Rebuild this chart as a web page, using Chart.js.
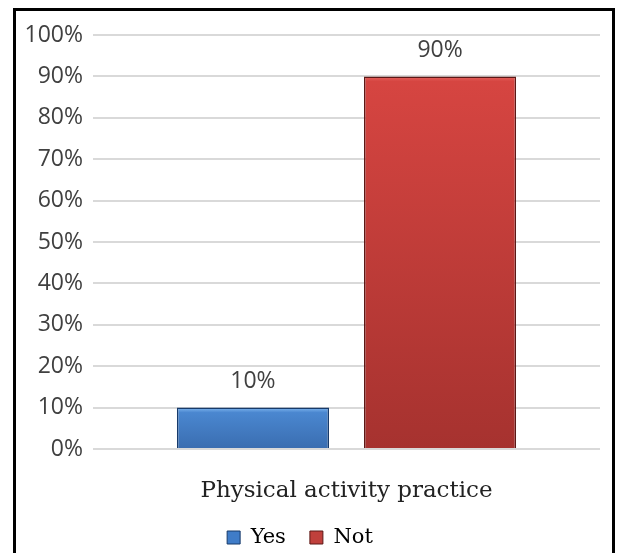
<!DOCTYPE html>
<html>
<head>
<meta charset="utf-8">
<script src="https://cdn.jsdelivr.net/npm/chart.js@4.4.1/dist/chart.umd.min.js"></script>
<style>
  body { margin: 0; background: #fff; }
  #wrap { position: relative; width: 617px; height: 553px; }
  #frame { position: absolute; left: 13px; top: 8px; width: 596px; height: 560px;
           border: 3px solid #000; border-bottom: none; pointer-events: none; }
</style>
</head>
<body>
<div id="wrap">
  <canvas id="chart" width="617" height="553"></canvas>
  <div id="frame"></div>
</div>
<script>
const categories = ['Physical activity practice'];
const seriesNames = ['Yes', 'Not'];
const yesValues = [10];
const notValues = [90];
const yTicks = [0, 10, 20, 30, 40, 50, 60, 70, 80, 90, 100];

// vertical gradient per bar, from its top down to the baseline
function barFill(top, mid, bottom, fallback) {
    return function(ctx) {
        const chart = ctx.chart;
        if (!chart.chartArea || ctx.raw == null) return fallback;
        const y = chart.scales.y;
        const y0 = y.getPixelForValue(ctx.raw);
        const y1 = y.getPixelForValue(0);
        const g = chart.ctx.createLinearGradient(0, y0, 0, y1);
        const edge = Math.min(0.3, 5 / Math.max(1, y1 - y0));
        g.addColorStop(0, top);
        g.addColorStop(edge, mid);
        g.addColorStop(1, bottom);
        return g;
    };
}

const valueLabels = {
    id: 'valueLabels',
    afterDatasetsDraw(chart) {
        const ctx = chart.ctx;
        ctx.save();
        ctx.font = '23px "Open Sans"';
        ctx.fillStyle = '#404040';
        ctx.textAlign = 'center';
        ctx.textBaseline = 'middle';
        chart.data.datasets.forEach((ds, i) => {
            chart.getDatasetMeta(i).data.forEach((el, j) => {
                ctx.fillText(ds.data[j] + '%', el.x, el.y - 26);
            });
        });
        ctx.restore();
    }
};

const solidColors = ['#3f7cc8', '#c0403c'];
const edgeColors = ['#173a6a', '#5c1816'];

new Chart(document.getElementById('chart'), {
    type: 'bar',
    data: {
        labels: categories,
        datasets: [
            {
                label: seriesNames[0],
                data: yesValues,
                backgroundColor: barFill('#7fb6ee', '#4a87d0', '#3a6db0', solidColors[0]),
                borderColor: edgeColors[0],
                borderWidth: 1.5
            },
            {
                label: seriesNames[1],
                data: notValues,
                backgroundColor: barFill('#e66460', '#d64541', '#a6322f', solidColors[1]),
                borderColor: edgeColors[1],
                borderWidth: 1.5
            }
        ]
    },
    options: {
        responsive: false,
        animation: false,
        categoryPercentage: 0.738,
        barPercentage: 0.813,
        layout: { padding: { left: 0, right: 17, top: 35, bottom: -5 } },
        plugins: {
            tooltip: { enabled: false },
            legend: {
                position: 'bottom',
                labels: {
                    font: { family: '"DejaVu Serif"', size: 21 },
                    color: '#222',
                    boxWidth: 13,
                    boxHeight: 13,
                    padding: 4,
                    generateLabels(chart) {
                        return chart.data.datasets.map((ds, i) => ({
                            text: i === 0 ? ds.label + '   ' : ds.label,
                            fillStyle: solidColors[i],
                            strokeStyle: edgeColors[i],
                            lineWidth: 1,
                            datasetIndex: i
                        }));
                    }
                }
            }
        },
        scales: {
            x: {
                grid: { display: false },
                border: { display: false },
                ticks: {
                    font: { family: '"DejaVu Serif"', size: 23 },
                    color: '#222',
                    padding: 20
                },
                afterFit(s) { s.height = 74; }
            },
            y: {
                min: 0,
                max: 100,
                afterBuildTicks(s) { s.ticks = yTicks.map(v => ({ value: v })); },
                grid: { color: '#d9d9d9', lineWidth: 2, drawTicks: false },
                border: { display: false },
                ticks: {
                    font: { family: '"Open Sans"', size: 23 },
                    color: '#404040',
                    padding: 10,
                    callback: v => v + '%'
                },
                afterFit(s) { s.width = 93; }
            }
        }
    },
    plugins: [valueLabels]
});
</script>
</body>
</html>
